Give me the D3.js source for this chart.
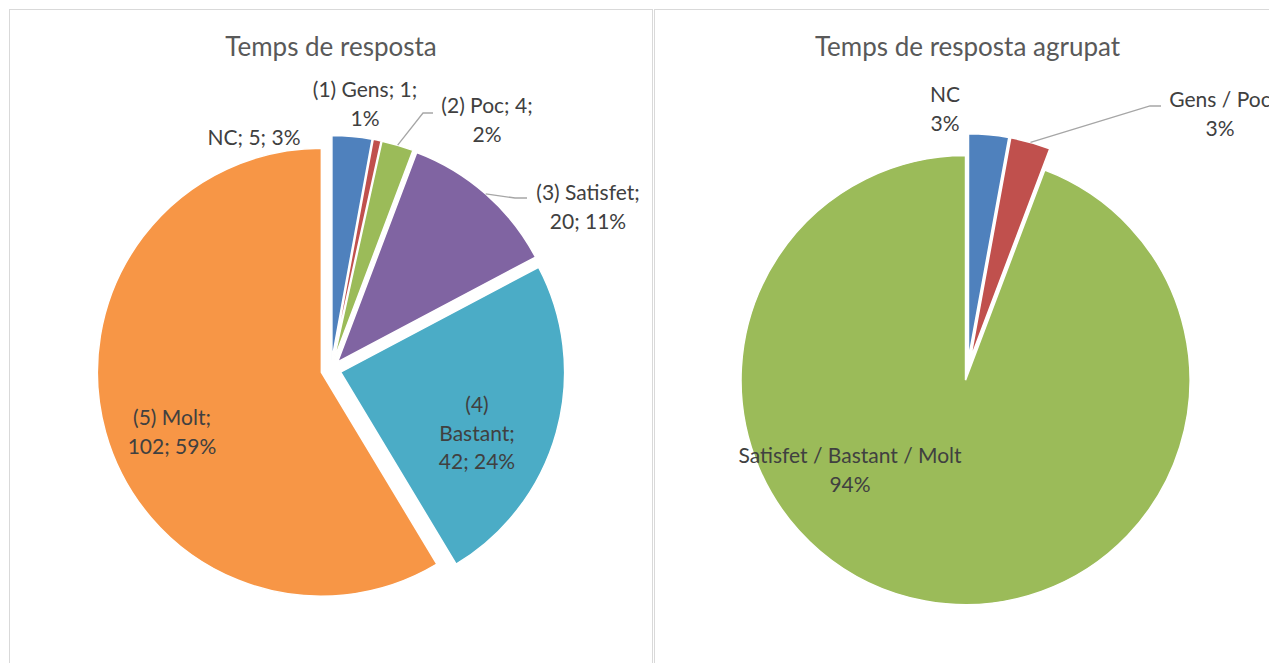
<!DOCTYPE html>
<html>
<head>
<meta charset="utf-8">
<script src="https://cdn.jsdelivr.net/npm/d3@7"></script>
<style>
  body { margin: 0; background: #fff; }
  svg { display: block; }
  text { font-family: Lato, "Open Sans", sans-serif; }
</style>
</head>
<body>
<svg width="1269" height="663"></svg>
<script>
'use strict';

// left chart: detailed answers
const detailTitle = "Temps de resposta";
const detailCategories = ["NC", "(1) Gens", "(2) Poc", "(3) Satisfet", "(4) Bastant", "(5) Molt"];
const detailValues = [5, 1, 4, 20, 42, 102];
const detailColors = ["#4F81BD", "#C0504D", "#9BBB59", "#8064A2", "#4BACC6", "#F79646"];

// right chart: grouped answers
const groupedTitle = "Temps de resposta agrupat";
const groupedCategories = ["NC", "Gens / Poc", "Satisfet / Bastant / Molt"];
const groupedValues = [5, 5, 164];
const groupedColors = ["#4F81BD", "#C0504D", "#9BBB59"];

let svg = d3.select("svg");
let pct = d3.format(".0%");

// panel frames
svg.append("rect")
    .attr("x", 9.5).attr("y", 9.5).attr("width", 643).attr("height", 700)
    .attr("fill", "none").attr("stroke", "#d9d9d9");
svg.append("rect")
    .attr("x", 654.5).attr("y", 9.5).attr("width", 700).attr("height", 700)
    .attr("fill", "none").attr("stroke", "#d9d9d9");

// label layout: centre x, first baseline y, words per line, optional leader elbow
let detailLabels = [
    {x: 254, y: 145, words: [3]},
    {x: 365, y: 97, words: [3, 1]},
    {x: 487, y: 113, words: [3, 1], elbow: [423, 113], end: [433, 113]},
    {x: 588, y: 200, words: [2, 2], elbow: [515, 198], end: [527, 198]},
    {x: 477, y: 412, words: [1, 1, 2]},
    {x: 172, y: 425, words: [2, 2]}
];
let groupedLabels = [
    {x: 945, y: 102},
    {x: 1220, y: 107, elbow: [1150, 106], end: [1161, 106]},
    {x: 850, y: 463}
];

function drawPie(opts) {
    let total = d3.sum(opts.values);
    let pie = d3.pie().sort(null).value(function(d) { return d; });
    let arc = d3.arc().innerRadius(0).outerRadius(opts.r);
    let arcs = pie(opts.values);

    let g = svg.append("g")
        .attr("transform", "translate(" + opts.cx + "," + opts.cy + ")");

    function offset(d, dist) {
        let mid = (d.startAngle + d.endAngle) / 2;
        return [Math.sin(mid) * dist, -Math.cos(mid) * dist];
    }

    g.selectAll("path")
        .data(arcs)
        .enter().append("path")
        .attr("d", arc)
        .attr("fill", function(d, i) { return opts.colors[i]; })
        .attr("stroke", "#fff")
        .attr("stroke-width", 1.5)
        .attr("transform", function(d) {
            let o = offset(d, opts.explode);
            return "translate(" + o[0] + "," + o[1] + ")";
        });

    svg.append("text")
        .attr("x", opts.cx).attr("y", 56)
        .attr("text-anchor", "middle")
        .attr("fill", "#595959")
        .style("font-size", "26px")
        .text(opts.title);

    arcs.forEach(function(d, i) {
        let lay = opts.labels[i];
        let lines = opts.lines(opts.categories[i], d.value, pct(d.value / total), lay);

        if (lay.elbow) {
            let o = offset(d, opts.explode + opts.r);
            svg.append("polyline")
                .attr("points", [[opts.cx + o[0], opts.cy + o[1]], lay.elbow, lay.end].join(" "))
                .attr("fill", "none")
                .attr("stroke", "#a6a6a6")
                .attr("stroke-width", 1.3);
        }

        let t = svg.append("text")
            .attr("text-anchor", "middle")
            .attr("fill", "#404040")
            .style("font-size", "21px");
        lines.forEach(function(line, k) {
            t.append("tspan")
                .attr("x", lay.x)
                .attr("y", lay.y + k * 28.5)
                .text(line);
        });
    });
}

drawPie({
    title: detailTitle,
    categories: detailCategories, values: detailValues, colors: detailColors,
    labels: detailLabels,
    cx: 331, cy: 369.5, r: 224, explode: 10,
    lines: function(cat, v, p, lay) {
        let words = (cat + "; " + v + "; " + p).split(" ");
        let out = [], k = 0;
        lay.words.forEach(function(n) {
            out.push(words.slice(k, k + n).join(" "));
            k += n;
        });
        return out;
    }
});

drawPie({
    title: groupedTitle,
    categories: groupedCategories, values: groupedValues, colors: groupedColors,
    labels: groupedLabels,
    cx: 967.5, cy: 369.3, r: 224.5, explode: 11,
    lines: function(cat, v, p) { return [cat, p]; }
});
</script>
</body>
</html>
